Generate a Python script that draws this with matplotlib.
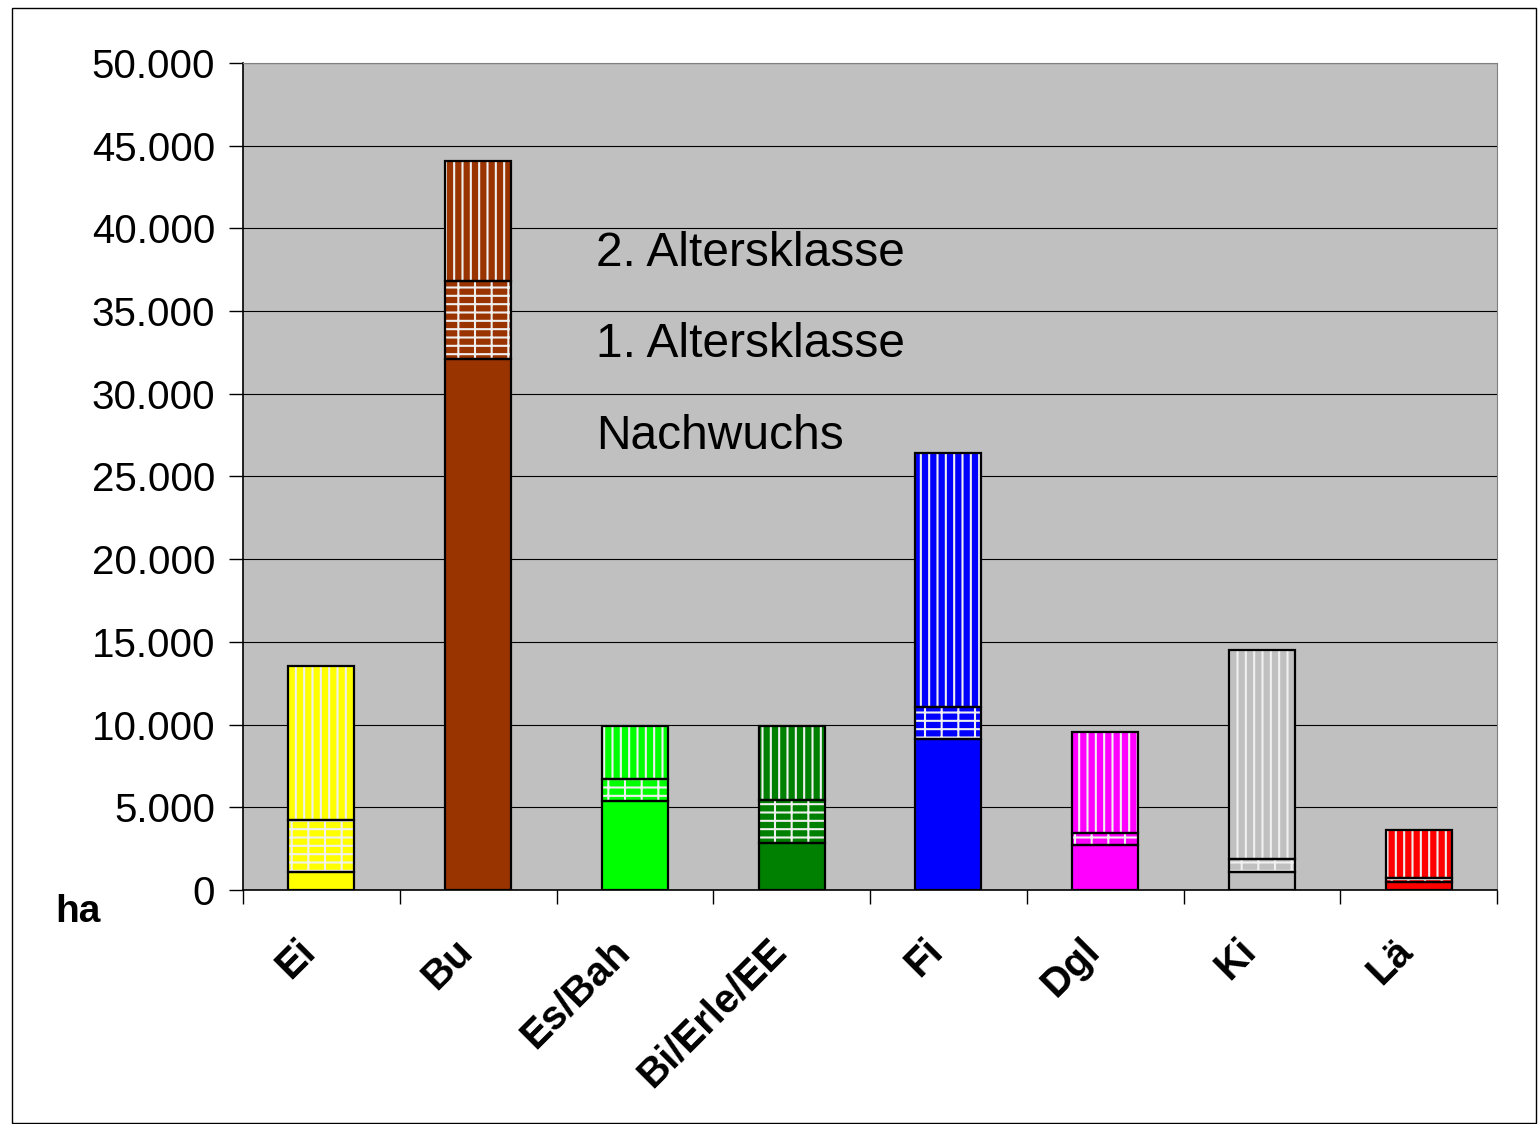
import numpy as np
import matplotlib.pyplot as plt
from matplotlib.patches import Rectangle
from matplotlib.transforms import ScaledTranslation

# Baumarten und Flächen (ha)
arten = ["Ei", "Bu", "Es/Bah", "Bi/Erle/EE", "Fi", "Dgl", "Ki", "Lä"]
nachwuchs = [1100, 32100, 5400, 2850, 9100, 2700, 1100, 480]
ak1 = [3130, 4700, 1300, 2600, 1950, 750, 770, 250]
ak2 = [9300, 7270, 3200, 4450, 15350, 6100, 12630, 2900]
farben = ["#FFFF00", "#993300", "#00FF00", "#008000", "#0000FF", "#FF00FF", "#C0C0C0", "#FF0000"]
yticks = [0, 5000, 10000, 15000, 20000, 25000, 30000, 35000, 40000, 45000, 50000]
legende = ["2. Altersklasse", "1. Altersklasse", "Nachwuchs"]

plt.rcParams['font.family'] = ['Liberation Sans', 'DejaVu Sans']
plt.rcParams['hatch.linewidth'] = 1.5

fig = plt.figure(figsize=(15.4, 11.24), dpi=100)
ax = fig.add_axes([243/1540, 1 - 890/1124, 1254/1540, 827/1124])
ax.set_facecolor("#C0C0C0")

x = np.arange(len(arten))
w = 0.42
untere = np.array(nachwuchs)
mitte = untere + np.array(ak1)

# Segmente: Füllung mit weißer Schraffur, dann schwarze Umrandung
for werte, basis, muster in [(nachwuchs, None, None), (ak1, untere, "--|"), (ak2, mitte, "||")]:
    b = np.zeros(len(arten)) if basis is None else basis
    ax.bar(x, werte, w, bottom=b, color=farben, edgecolor="#F0F0F0" if muster else "none",
           hatch=muster, linewidth=0, zorder=3)
    ax.bar(x, werte, w, bottom=b, fill=False, edgecolor="black", linewidth=1.6, zorder=4)

ax.set_xlim(-0.5, len(arten) - 0.5)
ax.set_ylim(0, 50000)
ax.set_yticks(yticks)
ax.set_yticklabels([f"{v:,}".replace(",", ".") for v in yticks], fontsize=29)
ax.yaxis.grid(True, color="black", linewidth=0.8, zorder=0)
ax.set_axisbelow(True)
ax.tick_params(axis="y", direction="out", length=10, width=1, pad=10)

ax.set_xticks(x)
ax.set_xticklabels(arten, rotation=45, ha="right", va="top", rotation_mode="anchor",
                   fontsize=29, fontweight="bold")
ax.tick_params(axis="x", length=0, pad=30)
verschiebung = ScaledTranslation(-0.25, 0, fig.dpi_scale_trans)
for lab in ax.get_xticklabels():
    lab.set_transform(lab.get_transform() + verschiebung)
ax.set_xticks(np.arange(-0.5, len(arten), 1), minor=True)
ax.tick_params(axis="x", which="minor", direction="out", length=10, width=1)

for s in ["top", "right"]:
    ax.spines[s].set_color("#808080")
ax.spines["left"].set_linewidth(1.2)
ax.spines["bottom"].set_linewidth(1.2)

for txt, yy in zip(legende, [38500, 33000, 27400]):
    ax.text(1.75, yy, txt, fontsize=34.5, va="center", ha="left", zorder=5)

fig.text(55/1540, 1 - 912/1124, "ha", fontsize=28, fontweight="bold", va="center", ha="left")

fig.patches.append(Rectangle((12/1540, 0.001), 1524/1540, 1 - 8/1124 - 0.001,
                             transform=fig.transFigure, fill=False, edgecolor="black", linewidth=1))

fig.savefig("out.png", dpi=100)
